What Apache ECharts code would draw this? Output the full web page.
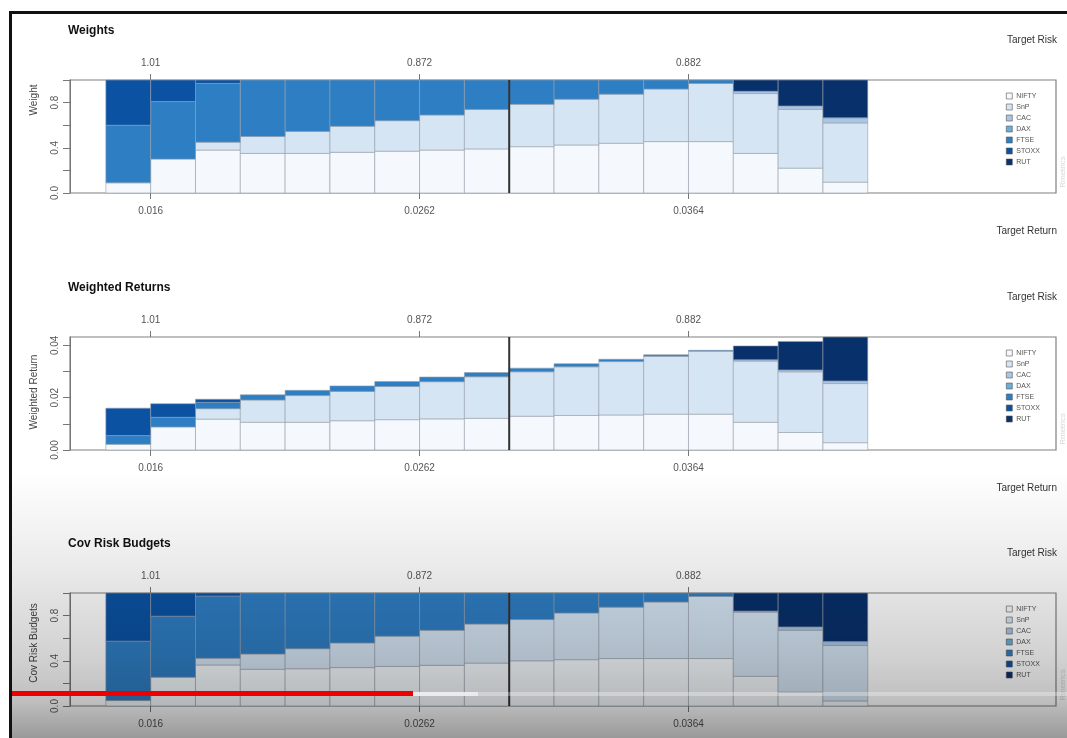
<!DOCTYPE html>
<html>
<head>
<meta charset="utf-8">
<script src="https://cdn.jsdelivr.net/npm/echarts@6/dist/echarts.min.js"></script>
<style>
  html, body { margin: 0; padding: 0; background: #ffffff; }
  #chart { width: 1067px; height: 738px; }
</style>
</head>
<body>
<div id="chart"></div>
<script>
// Assets and their fill colours (sequential blues)
const assets = ['NIFTY', 'SnP', 'CAC', 'DAX', 'FTSE', 'STOXX', 'RUT'];
const assetColors = ['#F5F9FD', '#D5E5F4', '#A9C6E4', '#6BAED6', '#2E7EC4', '#0B52A3', '#08306B'];

// Frontier portfolio axis ticks
const tickPositions = [1, 7, 13];
const targetRiskLabels = ['1.01', '0.872', '0.882'];
const targetReturnLabels = ['0.016', '0.0262', '0.0364'];
const minRiskPosition = 9;

// Y ticks
const unitTicks = [0, 0.2, 0.4, 0.6, 0.8, 1.0];
const unitTickLabels = ['0.0', '0.4', '0.8'];
const returnTicks = [0, 0.01, 0.02, 0.03, 0.04];
const returnTickLabels = ['0.00', '0.02', '0.04'];

// Weights of the 17 frontier portfolios
const wNIFTY = [0.09, 0.30, 0.38, 0.35, 0.35, 0.36, 0.37, 0.38, 0.39, 0.41, 0.425, 0.44, 0.455, 0.455, 0.35, 0.22, 0.096];
const wSnP   = [0, 0, 0.07, 0.15, 0.195, 0.23, 0.27, 0.31, 0.35, 0.375, 0.405, 0.435, 0.465, 0.515, 0.53, 0.52, 0.524];
const wCAC   = [0, 0, 0, 0, 0, 0, 0, 0, 0, 0, 0, 0, 0, 0, 0.02, 0.03, 0.045];
const wDAX   = [0, 0, 0, 0, 0, 0, 0, 0, 0, 0, 0, 0, 0, 0, 0, 0, 0];
const wFTSE  = [0.51, 0.51, 0.52, 0.50, 0.455, 0.41, 0.36, 0.31, 0.26, 0.215, 0.17, 0.125, 0.08, 0.03, 0, 0, 0];
const wSTOXX = [0.40, 0.19, 0.03, 0, 0, 0, 0, 0, 0, 0, 0, 0, 0, 0, 0, 0, 0];
const wRUT   = [0, 0, 0, 0, 0, 0, 0, 0, 0, 0, 0, 0, 0, 0, 0.10, 0.23, 0.335];

// Weighted returns
const rNIFTY = [0.0022, 0.0088, 0.0118, 0.0106, 0.0106, 0.0112, 0.0116, 0.0119, 0.0121, 0.0129, 0.0132, 0.0134, 0.0137, 0.0137, 0.0106, 0.0067, 0.0028];
const rSnP   = [0, 0, 0.0040, 0.0085, 0.0102, 0.0112, 0.0127, 0.0142, 0.0159, 0.0170, 0.0186, 0.0204, 0.0221, 0.0241, 0.0234, 0.0232, 0.0226];
const rCAC   = [0, 0, 0, 0, 0, 0, 0, 0, 0, 0, 0, 0, 0, 0, 0.0005, 0.0007, 0.0010];
const rDAX   = [0, 0, 0, 0, 0, 0, 0, 0, 0, 0, 0, 0, 0, 0, 0, 0, 0];
const rFTSE  = [0.0033, 0.0037, 0.0024, 0.0020, 0.0020, 0.0021, 0.0019, 0.0018, 0.0016, 0.0014, 0.0012, 0.0009, 0.0006, 0.0003, 0, 0, 0];
const rSTOXX = [0.0105, 0.0052, 0.0012, 0, 0, 0, 0, 0, 0, 0, 0, 0, 0, 0, 0, 0, 0];
const rRUT   = [0, 0, 0, 0, 0, 0, 0, 0, 0, 0, 0, 0, 0, 0, 0.0053, 0.0109, 0.0168];

// Covariance risk budgets
const bNIFTY = [0.048, 0.255, 0.363, 0.325, 0.33, 0.34, 0.35, 0.36, 0.38, 0.40, 0.41, 0.42, 0.42, 0.42, 0.263, 0.123, 0.045];
const bSnP   = [0, 0, 0.06, 0.135, 0.177, 0.218, 0.268, 0.31, 0.345, 0.365, 0.413, 0.455, 0.50, 0.55, 0.567, 0.547, 0.49];
const bCAC   = [0, 0, 0, 0, 0, 0, 0, 0, 0, 0, 0, 0, 0, 0, 0.01, 0.03, 0.035];
const bDAX   = [0, 0, 0, 0, 0, 0, 0, 0, 0, 0, 0, 0, 0, 0, 0, 0, 0];
const bFTSE  = [0.526, 0.54, 0.55, 0.54, 0.493, 0.442, 0.382, 0.33, 0.275, 0.235, 0.177, 0.125, 0.08, 0.03, 0, 0, 0];
const bSTOXX = [0.426, 0.205, 0.027, 0, 0, 0, 0, 0, 0, 0, 0, 0, 0, 0, 0, 0, 0];
const bRUT   = [0, 0, 0, 0, 0, 0, 0, 0, 0, 0, 0, 0, 0, 0, 0.16, 0.30, 0.43];

const panels = [
  { title: 'Weights', ylab: 'Weight', ylabY: 100, data: [wNIFTY, wSnP, wCAC, wDAX, wFTSE, wSTOXX, wRUT],
    yTicks: unitTicks, yLabels: unitTickLabels },
  { title: 'Weighted Returns', ylab: 'Weighted Return', ylabY: 392, data: [rNIFTY, rSnP, rCAC, rDAX, rFTSE, rSTOXX, rRUT],
    yTicks: returnTicks, yLabels: returnTickLabels },
  { title: 'Cov Risk Budgets', ylab: 'Cov Risk Budgets', ylabY: 643, data: [bNIFTY, bSnP, bCAC, bDAX, bFTSE, bSTOXX, bRUT],
    yTicks: unitTicks, yLabels: unitTickLabels }
];

const FONT = '"Liberation Sans", Arial, Helvetica, sans-serif';
const panelTops = [80, 337, 593];
const panelHeight = 113;
const xMin = -0.8, xMax = 21.2;

const chart = echarts.init(document.getElementById('chart'), null, { renderer: 'canvas' });

function renderBar(params, api) {
  const i = api.value(0), lo = api.value(1), hi = api.value(2);
  if (!(hi - lo > 0)) return null;
  const p0 = api.coord([i, lo]);
  const p1 = api.coord([i + 1, hi]);
  return {
    type: 'rect',
    shape: { x: p0[0], y: p1[1], width: p1[0] - p0[0], height: p0[1] - p1[1] },
    style: { fill: api.visual('color'), stroke: 'rgba(150,158,170,0.75)', lineWidth: 0.8 }
  };
}

const grid = [], xAxis = [], yAxis = [], series = [], legend = [], graphic = [];

panels.forEach((p, k) => {
  const top = panelTops[k];
  // stacked totals give the y range
  const totals = p.data[0].map((_, i) => p.data.reduce((s, arr) => s + arr[i], 0));
  const yMax = Math.max(...totals);

  grid.push({ left: 70, right: 11, top: top, height: panelHeight, show: true,
              borderColor: '#808080', borderWidth: 1.2, backgroundColor: 'transparent' });

  const xCommon = {
    type: 'value', gridIndex: k, min: xMin, max: xMax,
    axisLine: { show: false, onZero: false }, splitLine: { show: false },
    axisTick: { show: true, customValues: tickPositions, length: 6, lineStyle: { color: '#777', width: 1 } }
  };
  xAxis.push(Object.assign({}, xCommon, {
    position: 'bottom',
    axisLabel: { customValues: tickPositions, margin: 13, fontSize: 10, fontFamily: FONT, color: '#555',
                 formatter: v => targetReturnLabels[tickPositions.indexOf(v)] }
  }));
  xAxis.push(Object.assign({}, xCommon, {
    position: 'top',
    axisLabel: { customValues: tickPositions, margin: 12, fontSize: 10, fontFamily: FONT, color: '#555',
                 formatter: v => targetRiskLabels[tickPositions.indexOf(v)] }
  }));

  const labelVals = p.yTicks.filter((v, j) => j % 2 === 0);
  yAxis.push({
    type: 'value', gridIndex: k, min: 0, max: yMax, position: 'left',
    axisLine: { show: true, onZero: false, lineStyle: { color: '#777', width: 1 } },
    splitLine: { show: false },
    axisTick: { show: true, customValues: p.yTicks, length: 7, lineStyle: { color: '#777' } },
    axisLabel: { customValues: labelVals, rotate: 90, margin: 10, fontSize: 10, fontFamily: FONT, color: '#555',
                 formatter: v => p.yLabels[labelVals.indexOf(v)] }
  });

  // stacked layers
  const base = new Array(totals.length).fill(0);
  p.data.forEach((arr, a) => {
    const rows = arr.map((v, i) => { const r = [i, base[i], base[i] + v]; base[i] += v; return r; });
    series.push({
      type: 'custom', name: assets[a], xAxisIndex: 2 * k, yAxisIndex: k,
      renderItem: renderBar, data: rows, encode: { x: 0, y: [1, 2] },
      itemStyle: { color: assetColors[a], borderColor: '#666', borderWidth: 0.6 },
      silent: true, z: 2
    });
  });

  // minimum risk portfolio marker
  series.push({
    type: 'line', xAxisIndex: 2 * k, yAxisIndex: k, data: [[minRiskPosition, 0], [minRiskPosition, yMax]],
    symbol: 'none', silent: true, lineStyle: { color: '#333', width: 2 }, z: 5
  });

  legend.push({
    data: assets, orient: 'vertical', left: 1001, top: top + 7, itemWidth: 6, itemHeight: 6, itemGap: 3,
    icon: 'rect', selectedMode: false,
    itemStyle: { borderColor: '#555', borderWidth: 0.6 },
    textStyle: { fontSize: 7, lineHeight: 8, fontFamily: FONT, color: '#555', padding: [0, 0, 0, -1] }
  });

  // panel texts
  graphic.push({ type: 'text', left: 68, top: top - 55, style: { text: p.title, font: 'bold 12px ' + FONT, fill: '#111' } });
  graphic.push({ type: 'text', right: 10, top: top - 45, style: { text: 'Target Risk', font: '10px ' + FONT, fill: '#333' } });
  graphic.push({ type: 'text', right: 10, top: top + 146, style: { text: 'Target Return', font: '10px ' + FONT, fill: '#333' } });
  graphic.push({ type: 'text', x: 34, y: p.ylabY, rotation: Math.PI / 2,
                 style: { text: p.ylab, font: '10px ' + FONT, fill: '#444', align: 'center', verticalAlign: 'middle' } });
  graphic.push({ type: 'text', x: 1063, y: top + 92, rotation: Math.PI / 2,
                 style: { text: 'Rmetrics', font: '8px ' + FONT, fill: '#d8d8d8', align: 'center', verticalAlign: 'middle' } });
});

// frame, darkening at the bottom and the progress bar
graphic.push({ type: 'rect', shape: { x: 9, y: 11, width: 1058, height: 3 }, style: { fill: '#111' }, z: 50 });
graphic.push({ type: 'rect', shape: { x: 9, y: 11, width: 3, height: 727 }, style: { fill: '#111' }, z: 50 });
graphic.push({ type: 'rect', shape: { x: 12, y: 470, width: 1055, height: 268 }, silent: true, z: 60,
  style: { fill: new echarts.graphic.LinearGradient(0, 0, 0, 1, [
    { offset: 0, color: 'rgba(0,0,0,0)' },
    { offset: 0.35, color: 'rgba(0,0,0,0.08)' },
    { offset: 0.7, color: 'rgba(0,0,0,0.18)' },
    { offset: 0.86, color: 'rgba(0,0,0,0.25)' },
    { offset: 1, color: 'rgba(0,0,0,0.4)' }
  ]) } });
graphic.push({ type: 'rect', shape: { x: 12, y: 692, width: 1055, height: 4 }, style: { fill: 'rgba(255,255,255,0.3)' }, z: 61 });
graphic.push({ type: 'rect', shape: { x: 413, y: 692, width: 65, height: 4 }, style: { fill: 'rgba(240,240,240,0.85)' }, z: 62 });
graphic.push({ type: 'rect', shape: { x: 12, y: 691, width: 401, height: 5 }, style: { fill: '#ee0000' }, z: 63 });

chart.setOption({
  animation: false,
  backgroundColor: '#ffffff',
  textStyle: { fontFamily: FONT },
  grid: grid,
  xAxis: xAxis,
  yAxis: yAxis,
  legend: legend,
  series: series,
  graphic: graphic
});
</script>
</body>
</html>
